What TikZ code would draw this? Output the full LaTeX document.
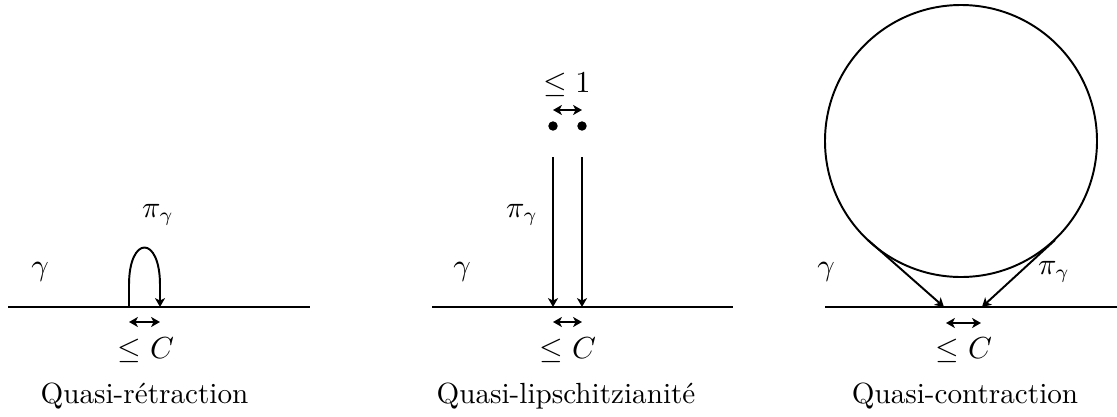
\documentclass[tikz,border=0pt]{standalone}
\usepackage{amssymb}
\usetikzlibrary{arrows.meta}
\begin{document}
\begin{tikzpicture}[x=0.36pt,y=-0.36pt,line width=0.7pt,
  >={Stealth[length=3.2pt,width=3.6pt,inset=0.9pt]},
  every node/.append style={font=\fontsize{10.5}{12.6}\selectfont},
  lbl/.style={inner sep=0pt},
  dotnode/.style={circle,fill=black,inner sep=0pt,minimum size=3.4pt}]
\useasboundingbox (0,0) rectangle (1117,417);
% Panel 1
\coordinate (a1) at (8,307); \coordinate (b1) at (310,307);
\draw (a1) -- (b1);
\coordinate (l1) at (129,307); \coordinate (r1) at (160,307);
\draw[->] (l1) -- (129,285) .. controls (129,235) and (160,235) .. (160,285) -- (r1);
\coordinate (da1) at (129,322); \coordinate (db1) at (160,322);
\draw[<->] (da1) -- (db1);
\node[lbl] (pi1) at (158,215) {$\pi_\gamma$};
\node[lbl] (g1) at (40,272) {$\gamma$};
\node[lbl] (c1) at (146,350) {$\leq C$};
\node[lbl] (t1) at (144.5,396) {Quasi-rétraction};
% Panel 2
\coordinate (a2) at (432,307); \coordinate (b2) at (733,307);
\draw (a2) -- (b2);
\node[dotnode] (p) at (553,126) {};
\node[dotnode] (q) at (582,126) {};
\coordinate (ps) at (553,157); \coordinate (pe) at (553,307);
\coordinate (qs) at (582,157); \coordinate (qe) at (582,307);
\draw[->] (ps) -- (pe);
\draw[->] (qs) -- (qe);
\coordinate (ua) at (553,110); \coordinate (ub) at (582,110);
\draw[<->] (ua) -- (ub);
\coordinate (da2) at (553,322); \coordinate (db2) at (582,322);
\draw[<->] (da2) -- (db2);
\node[lbl] (one) at (567,85) {$\leq 1$};
\node[lbl] (pi2) at (522,215) {$\pi_\gamma$};
\node[lbl] (g2) at (462,272) {$\gamma$};
\node[lbl] (c2) at (568,350) {$\leq C$};
\node[lbl] (t2) at (566,396) {Quasi-lipschitzianité};
% Panel 3
\coordinate (a3) at (825,307); \coordinate (b3) at (1117,307);
\draw (a3) -- (b3);
\node[circle,draw,minimum size=272*0.36pt,inner sep=0pt] (ball) at (961,141) {};
\coordinate (s1) at (868,240); \coordinate (e1) at (944,307);
\coordinate (s2) at (1055,240); \coordinate (e2) at (982,307);
\draw[->] (s1) -- (e1);
\draw[->] (s2) -- (e2);
\coordinate (da3) at (946,323); \coordinate (db3) at (981,323);
\draw[<->] (da3) -- (db3);
\node[lbl] (pi3) at (1054,272) {$\pi_\gamma$};
\node[lbl] (g3) at (826,272) {$\gamma$};
\node[lbl] (c3) at (964,350) {$\leq C$};
\node[lbl] (t3) at (965,396) {Quasi-contraction};
\end{tikzpicture}
\end{document}
